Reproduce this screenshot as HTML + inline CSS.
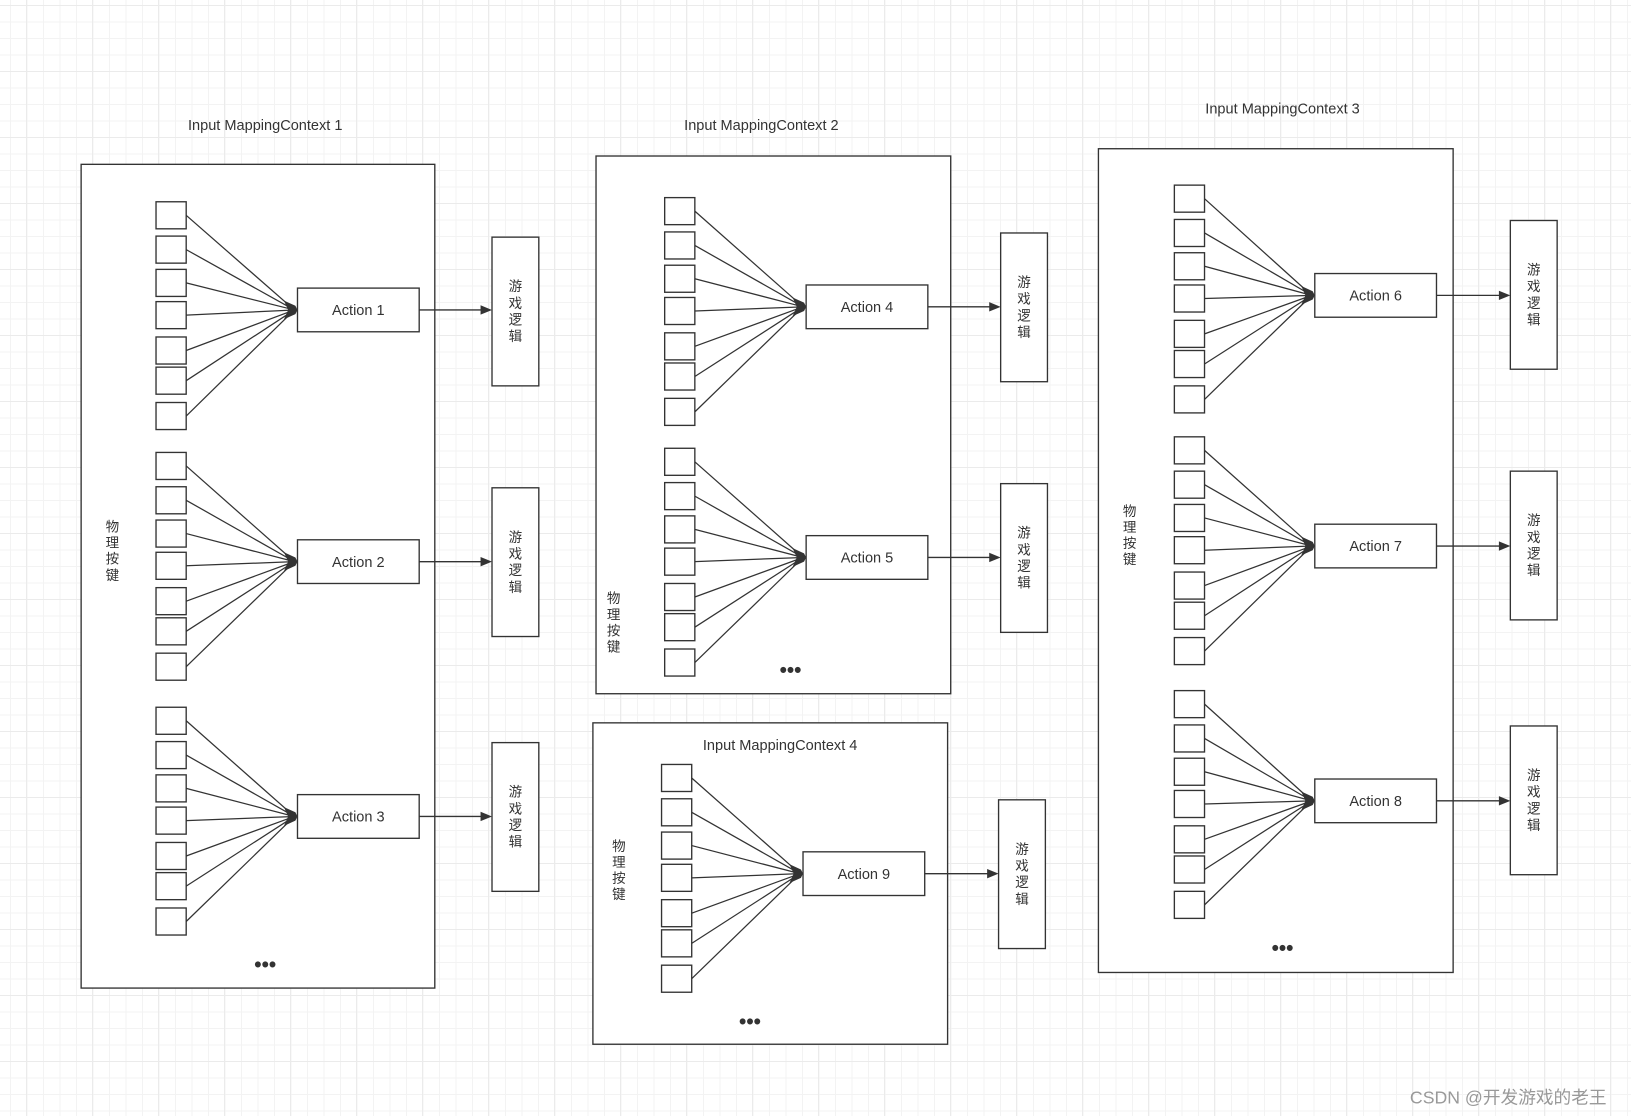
<!DOCTYPE html>
<html><head><meta charset="utf-8"><style>
html,body{margin:0;padding:0;}
body{width:1631px;height:1116px;overflow:hidden;background:#fff;
background-image:
linear-gradient(to right,#ebebeb 1px,transparent 1px),
linear-gradient(to bottom,#ebebeb 1px,transparent 1px),
linear-gradient(to right,#f3f3f3 1px,transparent 1px),
linear-gradient(to bottom,#f3f3f3 1px,transparent 1px);
background-size:66px 66px,66px 66px,16.5px 16.5px,16.5px 16.5px;
background-position:26px 5px,26px 5px,10px 5px,10px 5px;}
svg{position:absolute;left:0;top:0;}
text{font-family:"Liberation Sans","Noto Sans CJK SC",sans-serif;fill:#333;}
</style></head><body>
<svg id="s" width="1631" height="1116" viewBox="0 0 1568 1073" preserveAspectRatio="none" xmlns="http://www.w3.org/2000/svg"></svg>
<script>
const s=document.getElementById('s');let h='';
function R(x1,y1,x2,y2){h+=`<rect x="${x1}" y="${y1}" width="${x2-x1}" height="${y2-y1}" fill="#fff" stroke="#333" stroke-width="1.3"/>`;}
function T(x,y,t,sz,anc){h+=`<text x="${x}" y="${y}" font-size="${sz||14}" text-anchor="${anc||'middle'}">${t}</text>`;}
function V(x,y,t,sz,gap){for(let i=0;i<t.length;i++)T(x,y+i*gap,t[i],sz);}
function ctx(x1,y1,x2,y2,tx,ty,title,px,py,dx,dy){R(x1,y1,x2,y2);T(tx,ty,title,14);V(px,py,'物理按键',13,15.5);
h+=`<text x="${dx}" y="${dy}" font-size="20" font-weight="bold" text-anchor="middle">•••</text>`;}
function grp(sx,ys,ax,ay,name,bx,by){
 const cx=ax-3,cy=ay;
 ys.forEach(y=>{h+=`<rect x="${sx}" y="${y}" width="29" height="26" fill="#fff" stroke="#333" stroke-width="1.3"/>`;
 h+=`<line x1="${sx+29}" y1="${y+13}" x2="${cx}" y2="${cy}" stroke="#333" stroke-width="1.2"/>`;});
 h+=`<polygon points="${cx-10},${cy-9} ${cx+1},${cy-4} ${cx+3},${cy} ${cx+1},${cy+4} ${cx-10},${cy+9} ${cx-6},${cy}" fill="#333"/>`;
 R(ax,ay-21,ax+117,ay+21);T(ax+58.5,ay+5,name,14);
 h+=`<line x1="${ax+117}" y1="${ay}" x2="${bx-9}" y2="${ay}" stroke="#333" stroke-width="1.3"/>`;
 h+=`<polygon points="${bx-11},${ay-4.5} ${bx},${ay} ${bx-11},${ay+4.5}" fill="#333"/>`;
 R(bx,by,bx+45,by+143);V(bx+22.5,by+52,'游戏逻辑',13,16);}
const off=[0,33,65,96,130,159,193];
const ys=b=>off.map(o=>b+o);
ctx(78,158,418,950,255,125,'Input MappingContext 1',108,511,255,934);
grp(150,ys(194),286,298,'Action 1',473,228);
grp(150,ys(435),286,540,'Action 2',473,469);
grp(150,ys(680),286,785,'Action 3',473,714);
ctx(573,150,914,667,732,125,'Input MappingContext 2',590,580,760,651);
grp(639,ys(190),775,295,'Action 4',962,224);
grp(639,ys(431),775,536,'Action 5',962,465);
ctx(570,695,911,1004,750,721,'Input MappingContext 4',595,818,721,989);
grp(636,ys(735),772,840,'Action 9',960,769);
ctx(1056,143,1397,935,1233,109,'Input MappingContext 3',1086,496,1233,918);
grp(1129,ys(178),1264,284,'Action 6',1452,212);
grp(1129,ys(420),1264,525,'Action 7',1452,453);
grp(1129,ys(664),1264,770,'Action 8',1452,698);
h+=`<text x="1450" y="1061" font-size="17" text-anchor="middle" style="fill:#999">CSDN @开发游戏的老王</text>`;
s.innerHTML=h;
</script>
</body></html>
